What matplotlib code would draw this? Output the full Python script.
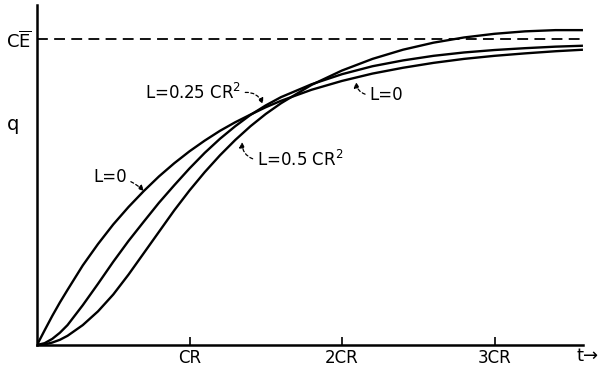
import numpy as np
import matplotlib.pyplot as plt

###############################################################################
###                     DATA
###############################################################################
# time in units of CR, charge in units of C*E
t = [0, 0.05, 0.1, 0.15, 0.2, 0.3, 0.4, 0.5, 0.6, 0.7, 0.8, 0.9, 1.0, 1.1,
     1.2, 1.3, 1.4, 1.5, 1.6, 1.8, 2.0, 2.2, 2.4, 2.6, 2.8, 3.0, 3.2, 3.4,
     3.58]
q_L0 = [0, 0.048, 0.095, 0.139, 0.18, 0.26, 0.33, 0.394, 0.451, 0.503,
        0.551, 0.594, 0.633, 0.668, 0.70, 0.728, 0.753, 0.777, 0.798, 0.834,
        0.863, 0.887, 0.906, 0.922, 0.935, 0.945, 0.953, 0.96, 0.965]
q_L025 = [0, 0.006, 0.02, 0.04, 0.065, 0.13, 0.20, 0.272, 0.34, 0.403,
          0.465, 0.522, 0.577, 0.628, 0.674, 0.715, 0.752, 0.783, 0.81,
          0.852, 0.885, 0.911, 0.93, 0.945, 0.956, 0.964, 0.97, 0.975, 0.978]
q_L05 = [0, 0.002, 0.008, 0.017, 0.03, 0.065, 0.11, 0.165, 0.23, 0.30,
         0.37, 0.44, 0.505, 0.565, 0.62, 0.67, 0.715, 0.755, 0.79, 0.85,
         0.897, 0.935, 0.965, 0.988, 1.005, 1.017, 1.025, 1.029, 1.029]

xticks = [1, 2, 3]
xtick_labels = ['CR', '2CR', '3CR']

###############################################################################
###                               FIGURE
###############################################################################
W, H = 603, 373
x0, y0 = 37, 345        # origin in pixels
px_cr, px_ce = 152.5, 306

fig = plt.figure(figsize=(W / 100, H / 100), dpi=100)
ax = fig.add_axes([x0 / W, (H - y0) / H, (583 - x0) / W, (y0 - 5) / H])
ax.set_xlim(0, (583 - x0) / px_cr)
ax.set_ylim(0, (y0 - 5) / px_ce)

for s in ['top', 'right']:
    ax.spines[s].set_visible(False)
for s in ['left', 'bottom']:
    ax.spines[s].set_linewidth(1.8)

lw = 1.7
ax.plot(t, q_L0, color='black', lw=lw, solid_capstyle='butt', solid_joinstyle='round')
ax.plot(t, q_L025, color='black', lw=lw, solid_capstyle='butt', solid_joinstyle='round')
ax.plot(t, q_L05, color='black', lw=lw, solid_capstyle='butt', solid_joinstyle='round')

# final value C*E
ax.axhline(1.0, color='black', lw=1.3, ls=(0, (6, 3.5)))

ax.set_xticks(xticks)
ax.set_xticklabels(xtick_labels, fontsize=12)
ax.tick_params(axis='x', direction='in', length=6, width=1.2, pad=3)
ax.set_yticks([1.0])
ax.set_yticklabels([r'$\mathrm{C\overline{E}}$'], fontsize=13)
ax.tick_params(axis='y', direction='in', length=0, pad=4)

fig.text(13 / W, 1 - 125 / H, 'q', fontsize=14, ha='center', va='center')
fig.text(588 / W, 1 - 356 / H, 't→', fontsize=13, ha='center', va='center')

# labels with dashed arrows
def to_data(px, py):
    return (px - x0) / px_cr, (y0 - py) / px_ce

arrow = dict(arrowstyle='-|>', lw=0.9, ls=(0, (2.5, 2)), color='black',
             mutation_scale=8, shrinkA=1, shrinkB=0)

ax.annotate('L=0', xy=to_data(144, 191), xytext=to_data(110, 177),
            fontsize=12, ha='center', va='center',
            arrowprops=dict(arrow, connectionstyle='arc3,rad=-0.2'))
ax.annotate('L=0.25 CR$^2$', xy=to_data(263, 104), xytext=to_data(193, 93),
            fontsize=12, ha='center', va='center',
            arrowprops=dict(arrow, connectionstyle='arc3,rad=-0.4',
                            relpos=(1, 0.5)))
ax.annotate('L=0.5 CR$^2$', xy=to_data(242, 142), xytext=to_data(300, 160),
            fontsize=12, ha='center', va='center',
            arrowprops=dict(arrow, connectionstyle='arc3,rad=-0.4',
                            relpos=(0, 0.5)))
ax.annotate('L=0', xy=to_data(356, 82), xytext=to_data(386, 95),
            fontsize=12, ha='center', va='center',
            arrowprops=dict(arrow, connectionstyle='arc3,rad=-0.4',
                            relpos=(0, 0.5)))

plt.savefig('out.png', dpi=100)
